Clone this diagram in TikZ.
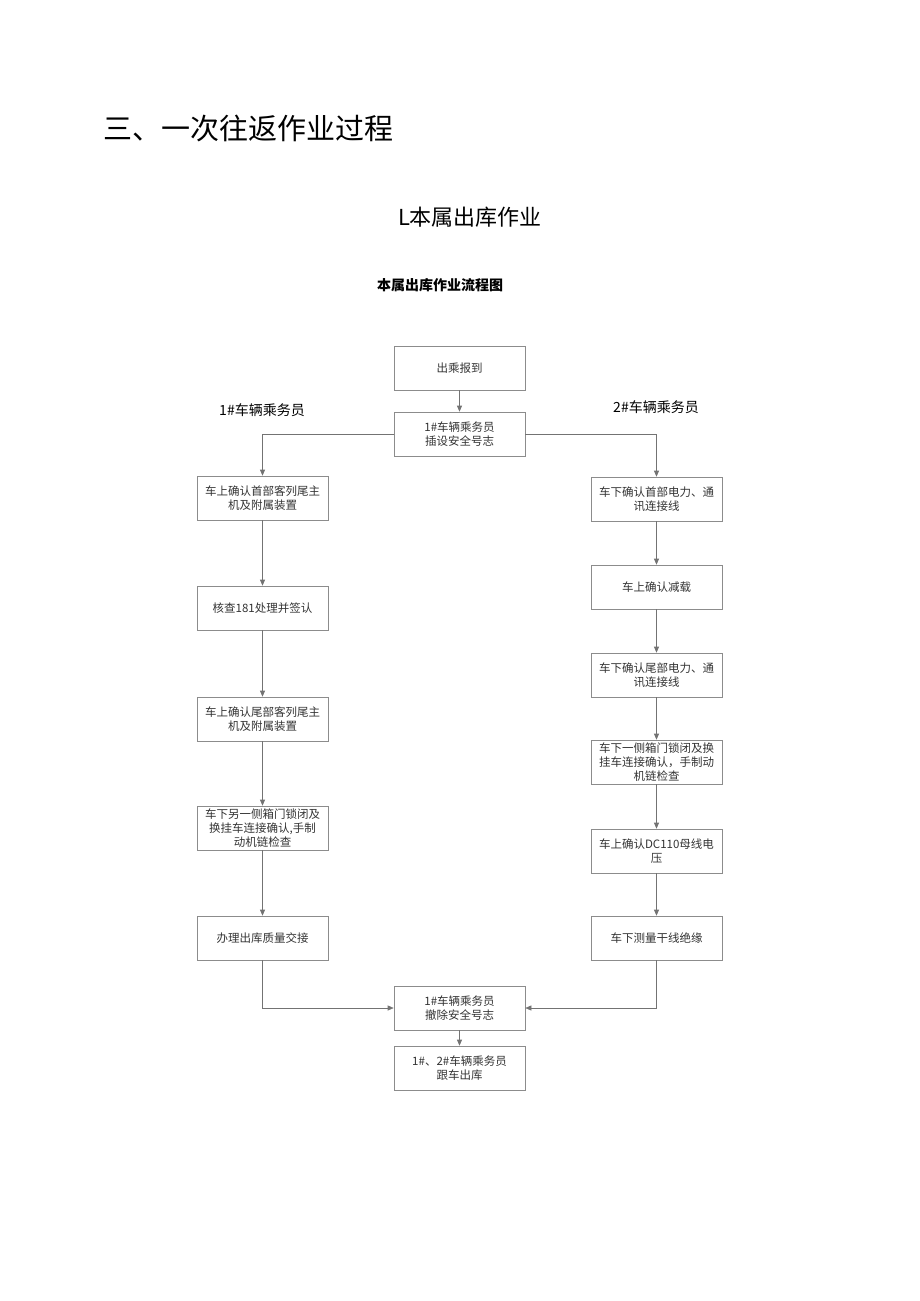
\documentclass[tikz,border=0pt]{standalone}
\usepackage{fontspec}
\setmainfont{Liberation Serif}
\newfontfamily\cjk{Noto Sans CJK SC}
\usetikzlibrary{arrows.meta}
\tikzset{
  stepbox/.style={draw=black!45, line width=0.6pt, minimum width=131pt, minimum height=44pt,
    inner sep=2pt, align=center, font=\cjk\fontsize{11.5}{14}\selectfont, text=black!80},
  link/.style={draw=black!55, line width=0.6pt, -{Triangle[length=6pt,width=5pt]}},
}
\begin{document}
\begin{tikzpicture}[x=1pt,y=-1pt]
\useasboundingbox (0,0) rectangle (920,1301);
% titles
\node[font=\cjk\fontsize{29}{32}\selectfont, anchor=west] (title) at (100,128) {三、一次往返作业过程};
\node[font=\cjk\fontsize{22}{26}\selectfont] (sub) at (470,217) {L本属出库作业};
\node[font=\cjk\bfseries\fontsize{14}{16}\selectfont] (cap) at (440,285) {本属出库作业流程图};
\node[font=\cjk\fontsize{14}{16}\selectfont] (lab1) at (262,410) {1\#车辆乘务员};
\node[font=\cjk\fontsize{14}{16}\selectfont] (lab2) at (656,407) {2\#车辆乘务员};
% middle
\node[stepbox] (start) at (459.5,368) {出乘报到};
\node[stepbox] (set) at (459.5,434) {1\#车辆乘务员\\插设安全号志};
\node[stepbox] (remove) at (459.5,1008) {1\#车辆乘务员\\撤除安全号志};
\node[stepbox] (leave) at (459.5,1068) {1\#、2\#车辆乘务员\\跟车出库};
% left column
\node[stepbox] (l1) at (262.5,498) {车上确认首部客列尾主\\机及附属装置};
\node[stepbox] (l2) at (262.5,608) {核查181处理并签认};
\node[stepbox] (l3) at (262.5,719) {车上确认尾部客列尾主\\机及附属装置};
\node[stepbox] (l4) at (262.5,828) {车下另一侧箱门锁闭及\\换挂车连接确认,手制\\动机链检查};
\node[stepbox] (l5) at (262.5,938) {办理出库质量交接};
% right column
\node[stepbox] (r1) at (656.5,499) {车下确认首部电力、通\\讯连接线};
\node[stepbox] (r2) at (656.5,587) {车上确认减载};
\node[stepbox] (r3) at (656.5,675) {车下确认尾部电力、通\\讯连接线};
\node[stepbox] (r4) at (656.5,762) {车下一侧箱门锁闭及换\\挂车连接确认，手制动\\机链检查};
\node[stepbox] (r5) at (656.5,851) {车上确认DC110母线电\\压};
\node[stepbox] (r6) at (656.5,938) {车下测量干线绝缘};
% connectors
\draw[link] (start) -- (set);
\draw[link] (set.west) -| (l1.north);
\draw[link] (set.east) -| (r1.north);
\foreach \a/\b in {l1/l2,l2/l3,l3/l4,l4/l5,r1/r2,r2/r3,r3/r4,r4/r5,r5/r6}
  \draw[link] (\a) -- (\b);
\draw[link] (l5.south) |- (remove.west);
\draw[link] (r6.south) |- (remove.east);
\draw[link] (remove) -- (leave);
\end{tikzpicture}
\end{document}
